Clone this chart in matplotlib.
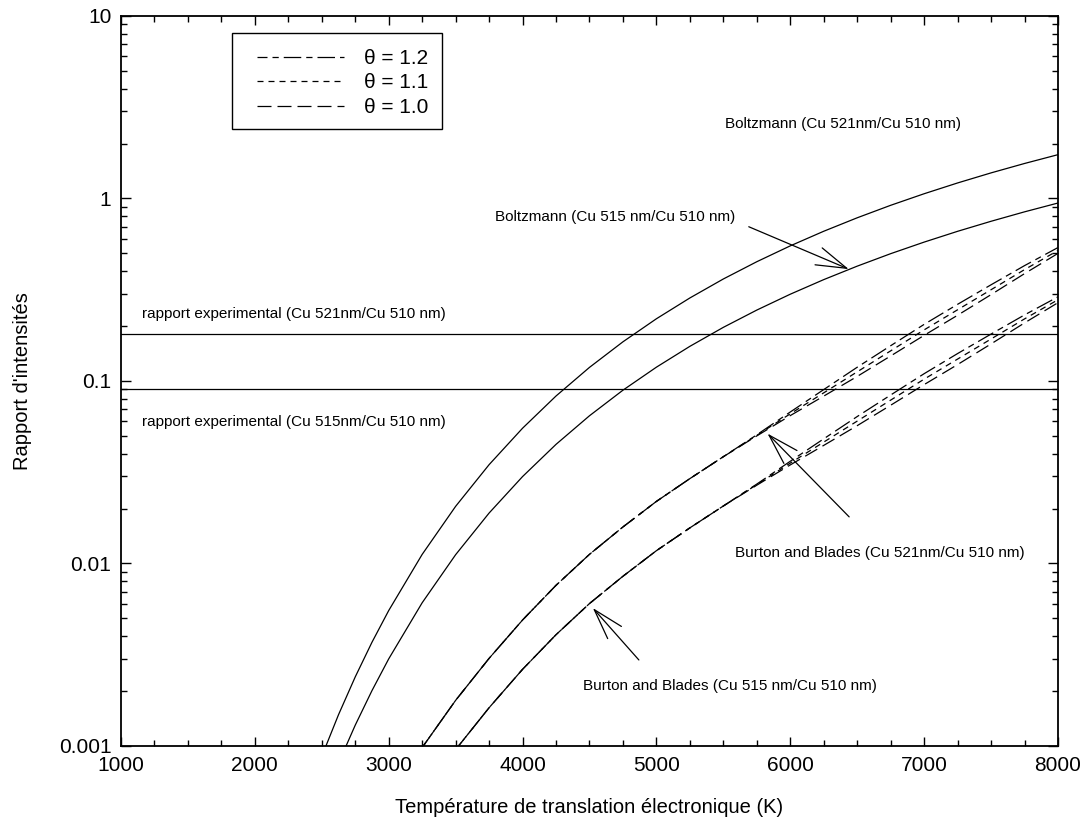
import matplotlib
matplotlib.use("Agg")
import matplotlib.pyplot as plt
import matplotlib.ticker as ticker
from matplotlib.patches import Rectangle
import numpy as np

plt.rcParams['font.family'] = ['Liberation Sans', 'DejaVu Sans']

# temperatures (K) and Boltzmann ratios
t_boltz = [2500, 2625, 2750, 2875, 3000, 3250, 3500, 3750, 4000, 4250, 4500, 4750, 5000,
           5250, 5500, 5750, 6000, 6250, 6500, 6750, 7000, 7250, 7500, 7750, 8000]
boltz_521 = [0.000877, 0.001483, 0.00239, 0.0037, 0.00552, 0.01121, 0.02056, 0.03478, 0.05509,
             0.08272, 0.1187, 0.1639, 0.2192, 0.2850, 0.3621, 0.4502, 0.5499, 0.6612, 0.7836,
             0.9173, 1.0614, 1.2162, 1.3809, 1.5548, 1.7378]
boltz_515 = [0.000476, 0.000805, 0.0013, 0.00201, 0.0030, 0.00609, 0.01117, 0.01889, 0.02993,
             0.04494, 0.06447, 0.08903, 0.1190, 0.1548, 0.1967, 0.2446, 0.2988, 0.3592, 0.4257,
             0.4983, 0.5766, 0.6607, 0.7499, 0.8447, 0.9441]

# Burton and Blades, Cu 521nm / Cu 510 nm, three theta values
t_bb521 = [3250, 3500, 3750, 4000, 4250, 4500, 4750, 5000, 5250, 5500,
           5750, 6000, 6250, 6500, 6750, 7000, 7250, 7500, 7750, 8000]
bb521_t11 = [0.00098, 0.001778, 0.00302, 0.0049, 0.00759, 0.01122, 0.01585, 0.02188, 0.02917, 0.03846,
             0.05035, 0.06607, 0.0861, 0.1122, 0.1462, 0.1905, 0.2455, 0.3162, 0.4074, 0.5188]
bb521_t12 = [0.00098, 0.001778, 0.00302, 0.0049, 0.00759, 0.01122, 0.01585, 0.02188, 0.02917, 0.03846,
             0.0507, 0.0676, 0.0897, 0.1189, 0.1560, 0.2042, 0.2630, 0.3365, 0.4285, 0.5383]
bb521_t10 = [0.00098, 0.001778, 0.00302, 0.0049, 0.00759, 0.01122, 0.01585, 0.02188, 0.02917, 0.03846,
             0.0500, 0.0646, 0.0826, 0.1059, 0.1371, 0.1778, 0.2291, 0.2972, 0.3873, 0.5000]

# Burton and Blades, Cu 515 nm / Cu 510 nm
t_bb515 = [3500, 3750, 4000, 4250, 4500, 4750, 5000, 5250, 5500,
           5750, 6000, 6250, 6500, 6750, 7000, 7250, 7500, 7750, 8000]
bb515_t11 = [0.000955, 0.00162, 0.00263, 0.00407, 0.00603, 0.00851, 0.01175, 0.01567, 0.02065,
             0.02704, 0.03548, 0.04624, 0.06026, 0.07852, 0.1023, 0.1318, 0.1698, 0.2188, 0.2786]
bb515_t12 = [0.000955, 0.00162, 0.00263, 0.00407, 0.00603, 0.00851, 0.01175, 0.01567, 0.02065,
             0.02723, 0.03631, 0.04819, 0.06383, 0.08375, 0.1096, 0.1413, 0.1807, 0.2301, 0.2891]
bb515_t10 = [0.000955, 0.00162, 0.00263, 0.00407, 0.00603, 0.00851, 0.01175, 0.01567, 0.02065,
             0.02685, 0.03467, 0.04436, 0.05689, 0.07362, 0.0955, 0.1230, 0.1596, 0.2080, 0.2685]

# experimental ratios
ratio_exp_521 = 0.18
ratio_exp_515 = 0.09

theta_labels = ['\u03b8 = 1.2', '\u03b8 = 1.1', '\u03b8 = 1.0']
style_t12 = (6, (14, 4, 5, 4))
style_t11 = (0, (4.8, 4.0))
style_t10 = (0, (11.2, 4.8))

fig = plt.figure(figsize=(10.87, 8.23), dpi=100)
ax = fig.add_axes([0.1113, 0.0936, 0.862, 0.887])

lw = 0.9
ax.plot(t_boltz, boltz_521, color='black', lw=lw)
ax.plot(t_boltz, boltz_515, color='black', lw=lw)

l12, = ax.plot(t_bb521, bb521_t12, color='black', lw=lw, linestyle=style_t12)
l11, = ax.plot(t_bb521, bb521_t11, color='black', lw=lw, linestyle=style_t11)
l10, = ax.plot(t_bb521, bb521_t10, color='black', lw=lw, linestyle=style_t10)
ax.plot(t_bb515, bb515_t12, color='black', lw=lw, linestyle=style_t12)
ax.plot(t_bb515, bb515_t11, color='black', lw=lw, linestyle=style_t11)
ax.plot(t_bb515, bb515_t10, color='black', lw=lw, linestyle=style_t10)

ax.axhline(ratio_exp_521, color='black', lw=lw)
ax.axhline(ratio_exp_515, color='black', lw=lw)

ax.set_yscale('log')
ax.set_xlim(1000, 8000)
ax.set_ylim(0.001, 10)

ax.xaxis.set_major_locator(ticker.MultipleLocator(1000))
ax.xaxis.set_minor_locator(ticker.MultipleLocator(250))
ax.yaxis.set_major_formatter(ticker.FuncFormatter(lambda v, p: '%g' % v))
ax.yaxis.set_minor_locator(ticker.LogLocator(base=10, subs=np.arange(2, 10)))
ax.yaxis.set_minor_formatter(ticker.NullFormatter())

ax.tick_params(which='both', direction='in', top=True, right=True, width=1.0, labelsize=15)
ax.tick_params(axis='y', which='major', length=7, pad=7)
ax.tick_params(axis='y', which='minor', length=4.5)
ax.tick_params(axis='x', which='major', length=6.5, pad=7)
ax.tick_params(axis='x', which='minor', length=4.5)
for s in ax.spines.values():
    s.set_linewidth(1.3)

ax.set_xlabel('Température de translation électronique (K)', fontsize=14.5, labelpad=17)
ax.set_ylabel("Rapport d'intensités", fontsize=14.5, labelpad=19)

# text labels
fs = 11
ax.text(1157, ratio_exp_521 * 1.3, 'rapport experimental (Cu 521nm/Cu 510 nm)', fontsize=fs, va='center', ha='left')
ax.text(1157, 0.0596, 'rapport experimental (Cu 515nm/Cu 510 nm)', fontsize=fs, va='center', ha='left')
ax.text(5510, 2.55, 'Boltzmann (Cu 521nm/Cu 510 nm)', fontsize=fs, va='center', ha='left')

arrow = dict(arrowstyle='->,head_length=1.0,head_width=0.3', color='black', lw=0.9,
             mutation_scale=22, shrinkA=0, shrinkB=0)
ax.text(3793, 0.79, 'Boltzmann (Cu 515 nm/Cu 510 nm)', fontsize=fs, va='center', ha='left')
ax.annotate('', xy=(6437, 0.41), xytext=(5690, 0.70), arrowprops=arrow)

ax.text(5590, 0.0114, 'Burton and Blades (Cu 521nm/Cu 510 nm)', fontsize=fs, va='center', ha='left')
ax.annotate('', xy=(5830, 0.0515), xytext=(6440, 0.018), arrowprops=arrow)

ax.text(4450, 0.00213, 'Burton and Blades (Cu 515 nm/Cu 510 nm)', fontsize=fs, va='center', ha='left')
ax.annotate('', xy=(4525, 0.0057), xytext=(4869, 0.00296), arrowprops=arrow)

# legend box drawn separately so the handles sit where they do in the original
ax.add_patch(Rectangle((0.1185, 0.8452), 0.2241, 0.1315, transform=ax.transAxes,
                       facecolor='white', edgecolor='black', lw=1.0, zorder=4))
leg = ax.legend([l12, l11, l10], theta_labels, loc='upper left', bbox_to_anchor=(0.1451, 0.9548),
                borderaxespad=0, fontsize=15, handlelength=4.2, labelspacing=0.26,
                frameon=False, borderpad=0, handletextpad=0.95)
leg.set_zorder(5)

fig.savefig('out.png', dpi=100)
